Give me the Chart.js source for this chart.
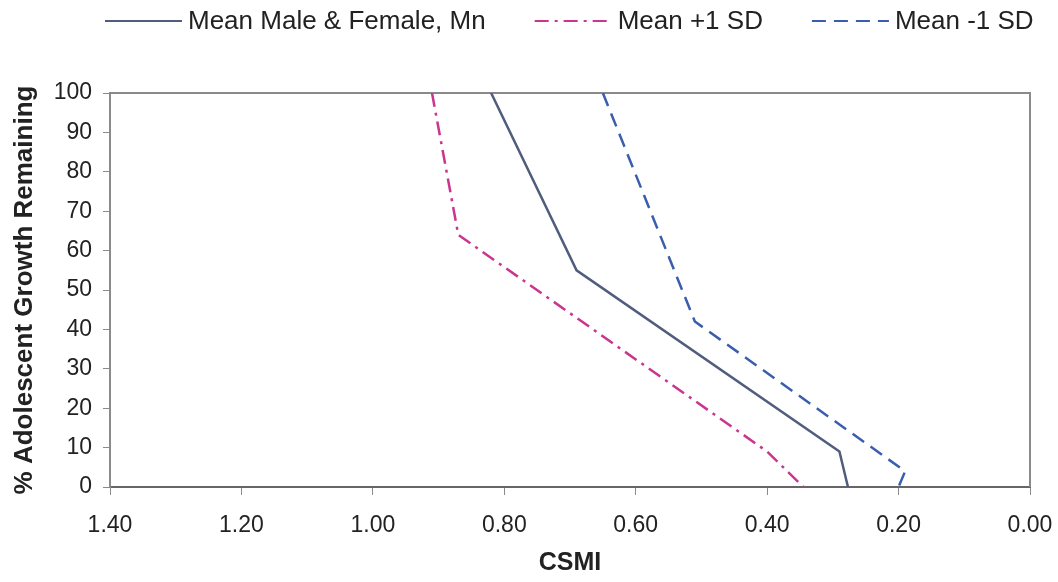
<!DOCTYPE html>
<html>
<head>
  <title>CSMI vs Adolescent Growth Remaining</title>
  <script src="https://cdn.jsdelivr.net/npm/chart.js"></script>
  <style>
    body {
      margin: 0;
      background: white;
      font-family: "Liberation Sans", Arial, sans-serif;
    }
    #wrap {
      width: 1058px;
      height: 582px;
    }
  </style>
</head>
<body>
  <div id="wrap"><canvas id="chart"></canvas></div>

  <script>
    // CSMI values (x) and % adolescent growth remaining (y) for each curve
    const csmiMean = [0.82, 0.69, 0.29, 0.277];
    const growthMean = [100, 55, 9, 0];
    const csmiPlusSD = [0.91, 0.87, 0.40, 0.345];
    const growthPlusSD = [100, 64, 9, 0];
    const csmiMinusSD = [0.65, 0.51, 0.19, 0.20];
    const growthMinusSD = [100, 42, 4, 0];

    const xTicks = [1.4, 1.2, 1.0, 0.8, 0.6, 0.4, 0.2, 0.0];

    function toPoints(xs, ys) {
      return xs.map((x, i) => ({ x: x, y: ys[i] }));
    }

    const axisGray = "#8a8a8a";
    const textColor = "#222";

    // frame around the plot area (top and right sides)
    const frame = {
      id: "frame",
      beforeDatasetsDraw(chart) {
        const a = chart.chartArea;
        const ctx = chart.ctx;
        ctx.save();
        ctx.strokeStyle = axisGray;
        ctx.lineWidth = 2;
        ctx.beginPath();
        ctx.moveTo(a.left, a.top);
        ctx.lineTo(a.right, a.top);
        ctx.lineTo(a.right, a.bottom);
        ctx.stroke();
        ctx.restore();
      }
    };

    // one row legend across the top: line sample, then label
    const lineLegend = {
      id: "lineLegend",
      afterDraw(chart) {
        const ctx = chart.ctx;
        const y = 21;
        let x = 105;
        ctx.save();
        ctx.font = "26px 'Liberation Sans'";
        ctx.textBaseline = "middle";
        ctx.fillStyle = textColor;
        chart.data.datasets.forEach(ds => {
          ctx.strokeStyle = ds.borderColor;
          ctx.lineWidth = 2;
          ctx.setLineDash(ds.borderDash || []);
          ctx.beginPath();
          ctx.moveTo(x, y);
          ctx.lineTo(x + 77, y);
          ctx.stroke();
          x += 83;
          ctx.fillText(ds.label, x, y + 1);
          x += ctx.measureText(ds.label).width + 49;
        });
        ctx.restore();
      }
    };

    new Chart(document.getElementById("chart").getContext("2d"), {
      type: "line",
      data: {
        datasets: [
          {
            label: "Mean Male & Female, Mn",
            data: toPoints(csmiMean, growthMean),
            borderColor: "#505d7c",
            borderWidth: 2.5,
            pointRadius: 0,
            tension: 0,
            fill: false
          },
          {
            label: "Mean +1 SD",
            data: toPoints(csmiPlusSD, growthPlusSD),
            borderColor: "#c9358f",
            borderDash: [14, 6, 3, 6],
            borderWidth: 2.5,
            pointRadius: 0,
            tension: 0,
            fill: false
          },
          {
            label: "Mean -1 SD",
            data: toPoints(csmiMinusSD, growthMinusSD),
            borderColor: "#3a5eae",
            borderDash: [14, 8],
            borderWidth: 2.5,
            pointRadius: 0,
            tension: 0,
            fill: false
          }
        ]
      },
      options: {
        responsive: true,
        maintainAspectRatio: false,
        animation: false,
        layout: {
          padding: { top: 93, left: 9, right: 28, bottom: 2 }
        },
        plugins: {
          legend: { display: false },
          tooltip: { enabled: false }
        },
        scales: {
          x: {
            type: "linear",
            reverse: true,
            min: 0,
            max: 1.4,
            afterBuildTicks(scale) {
              scale.ticks = xTicks.map(v => ({ value: v }));
            },
            afterFit(scale) {
              scale.height = 582 - 487 - 2;
              scale.paddingRight = 0;
            },
            ticks: {
              color: textColor,
              padding: 17,
              font: { family: "Liberation Sans", size: 23 },
              callback: v => Number(v).toFixed(2)
            },
            grid: {
              drawOnChartArea: false,
              color: axisGray,
              tickLength: 8
            },
            border: { color: "#666", width: 2 },
            title: {
              display: true,
              text: "CSMI",
              color: textColor,
              padding: { top: 0, bottom: 2 },
              font: { family: "Liberation Sans", size: 25, weight: "bold" }
            }
          },
          y: {
            min: 0,
            max: 100,
            afterFit(scale) {
              scale.width = 110 - 9;
            },
            ticks: {
              stepSize: 10,
              color: textColor,
              padding: 11,
              font: { family: "Liberation Sans", size: 23 }
            },
            grid: {
              drawOnChartArea: false,
              color: axisGray,
              tickLength: 7
            },
            border: { color: axisGray, width: 2 },
            title: {
              display: true,
              text: "% Adolescent Growth Remaining",
              color: textColor,
              padding: { top: 0, bottom: 0 },
              font: { family: "Liberation Sans", size: 26, weight: "bold" }
            }
          }
        }
      },
      plugins: [frame, lineLegend]
    });
  </script>
</body>
</html>
